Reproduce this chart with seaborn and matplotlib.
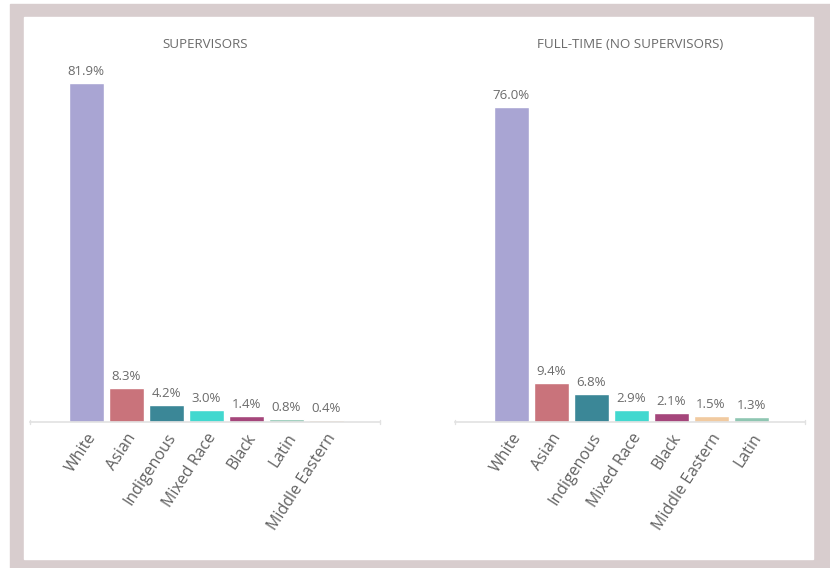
import matplotlib
matplotlib.use("Agg")
import matplotlib.pyplot as plt
import seaborn as sns
import pandas as pd
from matplotlib.patches import Rectangle

# --- data ---
sup_groups = ["White", "Asian", "Indigenous", "Mixed Race", "Black", "Latin", "Middle Eastern"]
sup_values = [81.9, 8.3, 4.2, 3.0, 1.4, 0.8, 0.4]

ft_groups = ["White", "Asian", "Indigenous", "Mixed Race", "Black", "Middle Eastern", "Latin"]
ft_values = [76.0, 9.4, 6.8, 2.9, 2.1, 1.5, 1.3]

titles = ["SUPERVISORS", "FULL-TIME (NO SUPERVISORS)"]

group_colors = {
    "White": "#a9a5d3",
    "Asian": "#c9737b",
    "Indigenous": "#3b8797",
    "Mixed Race": "#42d8cf",
    "Black": "#a5467b",
    "Latin": "#8fc6b2",
    "Middle Eastern": "#f1caa0",
}

sns.set_style("white")
plt.rcParams["font.family"] = ["Open Sans", "DejaVu Sans"]

W, H = 830, 568
fig = plt.figure(figsize=(W / 100, H / 100), dpi=100)
fig.patch.set_facecolor("white")

# frame around the panel
fig.patches.append(Rectangle((10 / W, 0), 1 - 10 / W, (H - 4) / H,
                             transform=fig.transFigure, color="#d8cdce", zorder=-2))
fig.patches.append(Rectangle((24 / W, (H - 559) / H), (813 - 24) / W, (559 - 17) / H,
                             transform=fig.transFigure, color="white", zorder=-1))

text_col = "#6b6b6b"
base_y = 422
top_y = 60
ymax = (base_y - top_y) / 4.14

panels = [(30, sup_groups, sup_values), (455, ft_groups, ft_values)]
for (left, groups, values), title in zip(panels, titles):
    ax = fig.add_axes([left / W, (H - base_y) / H, 350 / W, (base_y - top_y) / H])
    ax.set_facecolor("none")
    df = pd.DataFrame({"group": groups, "value": values})
    sns.barplot(data=df, x="group", y="value", hue="group", palette=group_colors,
                width=0.875, legend=False, ax=ax, saturation=1)
    ax.set_xlim(-1.4, 7.35)
    ax.set_ylim(0, ymax)
    for i, v in enumerate(values):
        ax.text(i, v + 1.2, f"{v:.1f}%", ha="center", va="bottom",
                fontsize=9.5, color=text_col)
    ax.set_xlabel("")
    ax.set_ylabel("")
    ax.set_yticks([])
    ax.set_xticks(range(len(groups)))
    ax.set_xticklabels(groups, rotation=57, ha="right", rotation_mode="anchor",
                       fontsize=11.5, color="#626262")
    ax.tick_params(axis="x", length=0, pad=6)
    for s in ["top", "right", "left"]:
        ax.spines[s].set_visible(False)
    ax.spines["bottom"].set_color("#e2e2e2")
    ax.spines["bottom"].set_linewidth(1.2)
    # small end marks on the baseline
    for xe in [-1.4, 7.35]:
        ax.plot([xe, xe], [-0.6, 0.6], color="#e2e2e2", lw=1, clip_on=False)
    fig.text((left + 175) / W, (H - 45) / H, title, ha="center", va="center",
             fontsize=9.6, color=text_col)

fig.savefig("out.png", dpi=100)
